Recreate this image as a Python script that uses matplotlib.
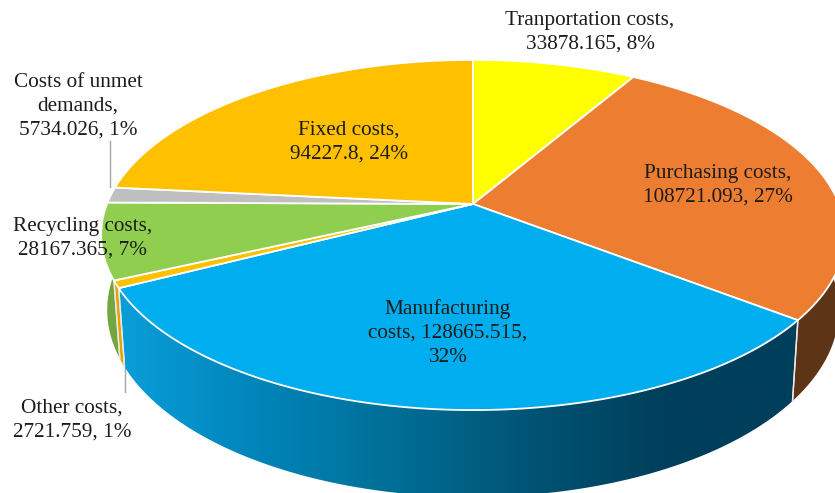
import numpy as np
import matplotlib
matplotlib.use('Agg')
import matplotlib.pyplot as plt
from matplotlib.colors import LinearSegmentedColormap
from matplotlib.patches import Polygon

names = ['Tranportation costs', 'Purchasing costs', 'Manufacturing costs', 'Other costs',
         'Recycling costs', 'Costs of unmet demands', 'Fixed costs']
values = [33878.165, 108721.093, 128665.515, 2721.759, 28167.365, 5734.026, 94227.8]
top_colors = ['#ffff00', '#ed7d31', '#00aeef', '#ffc000', '#8fce4f', '#bfbfbf', '#ffc000']
side_colors = ['#9a9a00', '#5e3416', None, '#e3a300', '#74a63f', '#8a8a8a', '#b98b00']
labels = ['Tranportation costs,\n33878.165, 8%',
          'Purchasing costs,\n108721.093, 27%',
          'Manufacturing\ncosts, 128665.515,\n32%',
          'Other costs,\n2721.759, 1%',
          'Recycling costs,\n28167.365, 7%',
          'Costs of unmet\ndemands,\n5734.026, 1%',
          'Fixed costs,\n94227.8, 24%']
label_pos = [(590, 32), (718, 185), (448, 333), (72, 420), (83, 238), (78, 106), (349, 142)]

cx, cy = 473, 204
k = 0.177


def project(ang, r=1.0, rx=366, sy=169.6, y0=cy):
    # ang in degrees, clockwise from 12 o'clock, circle seen in perspective
    x = r * np.sin(np.radians(ang))
    y = r * np.cos(np.radians(ang))
    d = 1 + k * y
    return cx + rx * x / d, y0 - sy * y / d


def rim(a0, a1, **kw):
    n = max(int(abs(a1 - a0)) * 2, 4)
    t = np.linspace(a0, a1, n)
    return np.column_stack(project(t, **kw))


fig = plt.figure(figsize=(8.35, 4.93), dpi=100, facecolor='w')
ax = fig.add_axes([0, 0, 1, 1])
ax.set_xlim(0, 835)
ax.set_ylim(493, 0)
ax.axis('off')

edges = np.concatenate([[0], np.cumsum(values)]) / np.sum(values) * 360
bottom = dict(rx=360, sy=181, y0=277)

# side walls first, top face goes over them
for i in range(len(values)):
    a0, a1 = edges[i], edges[i + 1]
    if a1 < 90 or a0 > 285:
        continue
    a1 = min(a1, 285)
    pts = np.vstack([rim(a0, a1), rim(a1, a0, **bottom)])
    if side_colors[i] is None:
        cmap = LinearSegmentedColormap.from_list(
            'side', ['#0a9ed9', '#0085ba', '#006f97', '#005475', '#003f5c', '#003f5c'])
        im = ax.imshow(np.linspace(0, 1, 256)[None, :], cmap=cmap, aspect='auto',
                       extent=(118, 800, 500, 280), zorder=2)
        clip = Polygon(pts, closed=True, transform=ax.transData, fc='none', ec='none')
        ax.add_patch(clip)
        im.set_clip_path(clip)
    else:
        ax.add_patch(Polygon(pts, closed=True, fc=side_colors[i], ec='none', zorder=3))
    # white seams between the walls
    for a in (a0, a1):
        xt, yt = project(a)
        xb, yb = project(a, **bottom)
        if 100 < a < 260:
            ax.plot([xt, xb], [yt, yb], color='#e8e8e8', lw=1.0, zorder=4)

# top face
for i in range(len(values)):
    pts = np.vstack([[cx, cy], rim(edges[i], edges[i + 1])])
    ax.add_patch(Polygon(pts, closed=True, fc=top_colors[i], ec='w', lw=1.3,
                         joinstyle='round', zorder=5))

# leader lines
ax.plot([110, 110], [141, 187], color='#a6a6a6', lw=1, zorder=1)
ax.plot([125, 125], [366, 392], color='#a6a6a6', lw=1, zorder=1)

for s, (x, y) in zip(labels, label_pos):
    ax.text(x, y, s, ha='center', va='center', family='Liberation Serif', fontsize=15.3,
            color='#1c1c1c', linespacing=1.34, zorder=6)

fig.savefig('out.png', dpi=100)
